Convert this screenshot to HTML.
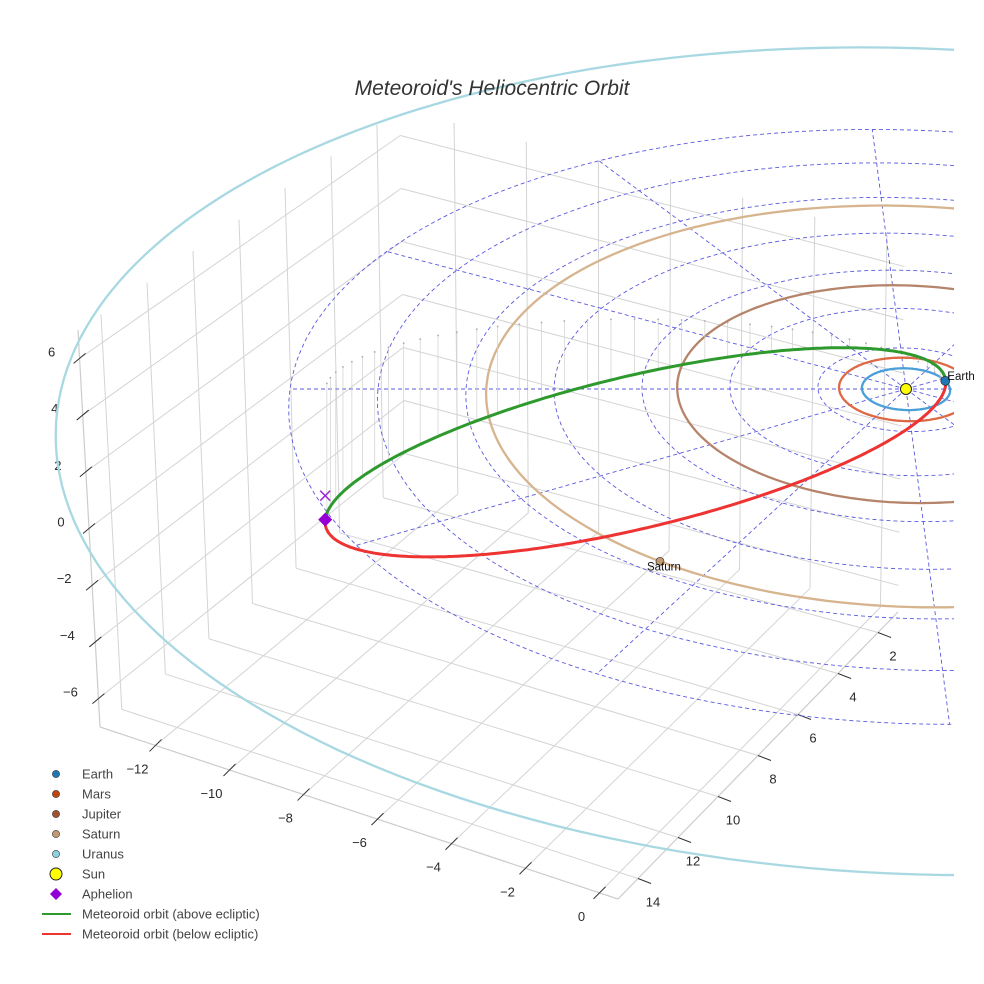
<!DOCTYPE html>
<html><head><meta charset="utf-8"><style>
html,body{margin:0;padding:0;background:#fff;}
svg{display:block;font-family:"Liberation Sans",sans-serif;}
</style></head><body>
<svg id="chart" width="984" height="984" viewBox="0 0 984 984" xmlns="http://www.w3.org/2000/svg">
<defs><clipPath id="plotclip"><rect x="0" y="0" width="954" height="984"/></clipPath>
<clipPath id="labelclip"><rect x="0" y="0" width="974" height="984"/></clipPath></defs>
<rect width="984" height="984" fill="#fff"/>
<g id="box"></g>
<g id="scene" clip-path="url(#plotclip)"></g>
<g id="labels" clip-path="url(#labelclip)"></g>
<text x="492" y="95" text-anchor="middle" font-size="21" font-style="italic" fill="#333">Meteoroid's Heliocentric Orbit</text>
<g id="legend"></g>
</svg>
<script>
// ---- data ----
const xTicks = [-12, -10, -8, -6, -4, -2, 0];
const yTicks = [2, 4, 6, 8, 10, 12, 14];
const zTicks = [-6, -4, -2, 0, 2, 4, 6];
const planetNames = ["Earth", "Mars", "Jupiter", "Saturn", "Uranus"];
const planetRadii = [1.0, 1.52, 5.2, 9.54, 19.2];
const planetAnglesDeg = [23, 5, 10, 233.5, 20];
const gridRadii = [2, 4, 6, 8, 10, 12, 14];
const gridAnglesDeg = [0, 30, 60, 90, 120, 150, 180, 210, 240, 270, 300, 330];
const meteoroidSemiMajor = [7.05];
const meteoroidEcc = [0.8723];
const meteoroidPlaneSlope = [0.33, 0.037]; // dZ/dX, dZ/dY

// ---- projection ----
const sunU = 906, sunV = 389, kx = 44, ky = 20.9, kz = 30, persp = 0.0091, shear = 0.13;
function proj(X, Y, Z) {
  const f = 1 + persp * Y;
  return [sunU + (kx * X - shear * ky * Y) / f, sunV - (ky * Y + kz * Z) / f];
}
const xr = [-13.5, 0.5], yr = [1, 15], zr = [-7, 7];
const C = {
  '000': [405, 480], '010': [100, 727], '100': [898, 612], '110': [618, 899],
  '001': [400, 109], '011': [78, 330], '101': [905, 240], '111': [600, 480]
};
function box(x, y, z) {
  const a = (x - xr[0]) / (xr[1] - xr[0]), b = (y - yr[0]) / (yr[1] - yr[0]), c = (z - zr[0]) / (zr[1] - zr[0]);
  let u = 0, v = 0;
  for (const i of [0, 1]) for (const j of [0, 1]) for (const k of [0, 1]) {
    const w = (i ? a : 1 - a) * (j ? b : 1 - b) * (k ? c : 1 - c);
    const p = C['' + i + j + k]; u += w * p[0]; v += w * p[1];
  }
  return [u, v];
}
const NS = 'http://www.w3.org/2000/svg';
function mk(tag, attrs, parent) {
  const el = document.createElementNS(NS, tag);
  for (const k in attrs) el.setAttribute(k, attrs[k]);
  parent.appendChild(el); return el;
}
const boxG = document.getElementById('box');
const scene = document.getElementById('scene');
const labelsG = document.getElementById('labels');
const legend = document.getElementById('legend');
function seg(p, q, stroke, w, parent, name) {
  const l = mk('line', { x1: p[0], y1: p[1], x2: q[0], y2: q[1], stroke: stroke, 'stroke-width': w }, parent);
  
  
  return l;
}
const gc = '#d4d4d4';
for (const x of xTicks) seg(box(x, yr[0], zr[0]), box(x, yr[1], zr[0]), gc, 1, boxG, 'floor-grid-x');
for (const y of yTicks) seg(box(xr[0], y, zr[0]), box(xr[1], y, zr[0]), gc, 1, boxG, 'floor-grid-y');
for (const y of yTicks) seg(box(xr[0], y, zr[0]), box(xr[0], y, zr[1]), gc, 1, boxG, 'left-wall-grid-y');
for (const z of zTicks) seg(box(xr[0], yr[0], z), box(xr[0], yr[1], z), gc, 1, boxG, 'left-wall-grid-z');
for (const x of xTicks) seg(box(x, yr[0], zr[0]), box(x, yr[0], zr[1]), gc, 1, boxG, 'back-wall-grid-x');
for (const z of zTicks) seg(box(xr[0], yr[0], z), box(xr[1], yr[0], z), gc, 1, boxG, 'back-wall-grid-z');
seg(box(xr[0], yr[1], zr[0]), box(xr[1], yr[1], zr[0]), '#ccc', 1.2, boxG, 'x-axis-line');
seg(box(xr[1], yr[0], zr[0]), box(xr[1], yr[1], zr[0]), '#ccc', 1.2, boxG, 'y-axis-line');
seg(box(xr[0], yr[1], zr[0]), box(xr[0], yr[1], zr[1]), '#ccc', 1.2, boxG, 'z-axis-line');
function label(t, x, y, name) {
  const e = mk('text', { x: x, y: y, 'text-anchor': 'middle', 'font-size': 13, fill: '#2a2a2a' }, boxG);
  e.textContent = t;
  
  
}
const fmt = v => v < 0 ? '\u2212' + (-v) : '' + v;
for (const x of xTicks) {
  const p = box(x, yr[1], zr[0]);
  seg([p[0] - 6, p[1] + 6], [p[0] + 6, p[1] - 6], '#333', 1, boxG, 'x-tick');
  label(fmt(x), p[0] - 18, p[1] + 28, 'x-tick-label');
}
for (const y of yTicks) {
  const p = box(xr[1], y, zr[0]);
  seg([p[0], p[1]], [p[0] + 13, p[1] + 5], '#333', 1, boxG, 'y-tick');
  label(fmt(y), p[0] + 15, p[1] + 28, 'y-tick-label');
}
for (const z of zTicks) {
  const p = box(xr[0], yr[1], z);
  seg([p[0] - 6, p[1] + 5], [p[0] + 6, p[1] - 5], '#333', 1, boxG, 'z-tick');
  label(fmt(z), p[0] - 28, p[1] - 2, 'z-tick-label');
}
function pathFrom(pts) { return 'M' + pts.map(p => p[0].toFixed(1) + ',' + p[1].toFixed(1)).join('L'); }
for (const r of gridRadii) {
  const pts = [];
  for (let i = 0; i <= 180; i++) { const t = i / 180 * 2 * Math.PI; pts.push(proj(r * Math.cos(t), r * Math.sin(t), 0)); }
  const p = mk('path', { d: pathFrom(pts), fill: 'none', stroke: '#5a5ae0', 'stroke-width': 0.9, 'stroke-dasharray': '4,3' }, scene);
  
  
}
for (const a of gridAnglesDeg) {
  const t = a * Math.PI / 180, R = gridRadii[gridRadii.length - 1];
  const l = seg(proj(0, 0, 0), proj(R * Math.cos(t), R * Math.sin(t), 0), '#5a5ae0', 0.9, scene, 'ecliptic-grid-spoke');
  l.setAttribute('stroke-dasharray', '4,3');
}
const orbitColors = ['#4a9fd8', '#dd6a45', '#b5846a', '#d6b48e', '#a8d8e2'];
const planetColors = ['#1f77b4', '#c1440e', '#a0522d', '#c29a70', '#8ecfe0'];
planetRadii.forEach((r, i) => {
  const pts = [];
  for (let k = 0; k <= 240; k++) { const t = k / 240 * 2 * Math.PI; pts.push(proj(r * Math.cos(t), r * Math.sin(t), 0)); }
  const p = mk('path', { d: pathFrom(pts), fill: 'none', stroke: orbitColors[i], 'stroke-width': 2.3 }, scene);
  
  
});
const a = meteoroidSemiMajor[0], e = meteoroidEcc[0];
const cX = -a * e, bY = a * Math.sqrt(1 - e * e);
function met(t, dz) {
  const X = cX + a * Math.cos(t), Y = bY * Math.sin(t);
  const Z = meteoroidPlaneSlope[0] * X + meteoroidPlaneSlope[1] * Y + (dz || 0);
  return { X, Y, Z, p: proj(X, Y, Z) };
}
for (let k = 1; k < 40; k++) {
  const t = k / 40 * Math.PI;
  const m = met(t);
  const q = proj(m.X, m.Y, 0);
  seg(m.p, q, '#cfcfcf', 0.7, scene, 'drop-line');
  const d = mk('circle', { cx: q[0], cy: q[1], r: 0.9, fill: '#aaa' }, scene);
  
  
}
const green = [], red = [];
for (let k = 0; k <= 400; k++) {
  const t = k / 400 * 2 * Math.PI;
  const m = met(t);
  if (Math.sin(t) >= 0) green.push(m.p); else red.push(m.p);
}
red.unshift(met(Math.PI).p);
const gp = mk('path', { d: pathFrom(green), fill: 'none', stroke: '#2e9a2e', 'stroke-width': 3 }, scene);


const rp = mk('path', { d: pathFrom(red), fill: 'none', stroke: '#ee3333', 'stroke-width': 3 }, scene);


const ap = met(Math.PI).p;
const dia = mk('path', { d: `M${ap[0]},${ap[1] - 7}L${ap[0] + 7},${ap[1]}L${ap[0]},${ap[1] + 7}L${ap[0] - 7},${ap[1]}Z`, fill: '#9400d3' }, scene);


const xm = met(Math.PI, 0.8).p;
const xmark = mk('path', { d: `M${xm[0] - 5},${xm[1] - 5}L${xm[0] + 5},${xm[1] + 5}M${xm[0] + 5},${xm[1] - 5}L${xm[0] - 5},${xm[1] + 5}`, stroke: '#9b30d0', 'stroke-width': 1.5 }, scene);


planetRadii.forEach((r, i) => {
  const t = planetAnglesDeg[i] * Math.PI / 180;
  const p = proj(r * Math.cos(t), r * Math.sin(t), 0);
  const c = mk('circle', { cx: p[0], cy: p[1], r: i === 0 ? 4.5 : 4, fill: planetColors[i], stroke: '#333', 'stroke-width': 0.7 }, scene);
  
  
  const tx = mk('text', { x: p[0] + (i === 3 ? -13 : 2), y: p[1] + (i === 3 ? 9 : -1), 'font-size': 11.5, fill: '#111' }, labelsG);
  tx.textContent = planetNames[i];
  
  
});
const sp = proj(0, 0, 0);
const sun = mk('circle', { cx: sp[0], cy: sp[1], r: 5.5, fill: '#ffff00', stroke: '#222', 'stroke-width': 1 }, scene);


const legItems = [
  ['Earth', 'dot', '#1f77b4'], ['Mars', 'dot', '#c1440e'], ['Jupiter', 'dot', '#a0522d'],
  ['Saturn', 'dot', '#c29a70'], ['Uranus', 'dot', '#8ecfe0'], ['Sun', 'sun', '#ffff00'],
  ['Aphelion', 'diamond', '#9400d3'], ['Meteoroid orbit (above ecliptic)', 'line', '#2e9a2e'],
  ['Meteoroid orbit (below ecliptic)', 'line', '#ee3333']
];
legItems.forEach((it, i) => {
  const y = 774 + i * 20;
  const g = mk('g', {}, legend);
  
  
  if (it[1] === 'dot') mk('circle', { cx: 56, cy: y, r: 3.6, fill: it[2], stroke: '#333', 'stroke-width': 0.6 }, g);
  else if (it[1] === 'sun') mk('circle', { cx: 56, cy: y, r: 6, fill: it[2], stroke: '#222', 'stroke-width': 1 }, g);
  else if (it[1] === 'diamond') mk('path', { d: `M56,${y - 6}L62,${y}L56,${y + 6}L50,${y}Z`, fill: it[2] }, g);
  else mk('line', { x1: 42, y1: y, x2: 71, y2: y, stroke: it[2], 'stroke-width': 2 }, g);
  const t = mk('text', { x: 82, y: y + 4.5, 'font-size': 13, fill: '#444' }, g);
  t.textContent = it[0];
});
</script>
</body></html>
